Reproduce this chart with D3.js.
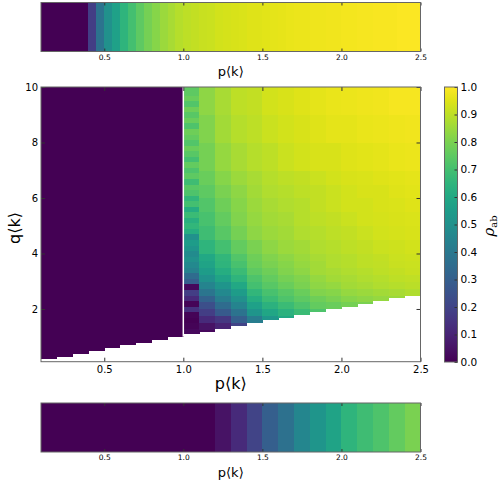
<!DOCTYPE html>
<html>
<head>
<meta charset="utf-8">
<script src="https://cdn.jsdelivr.net/npm/d3@7"></script>
<style>
body { margin: 0; background: #fff; }
text { font-family: "DejaVu Sans", sans-serif; fill: #000; }
.frame { fill: none; stroke: #666; stroke-width: 1; }
.tick line { stroke: #333; }
</style>
</head>
<body>
<svg id="chart" width="499" height="483"></svg>
<script>
// ---- data ----
// left edges of the 0.1 wide p<k> columns, last entry is the right edge
var pEdges = [0.1,0.2,0.3,0.4,0.5,0.6,0.7,0.8,0.9,1.0,1.1,1.2,1.3,1.4,1.5,1.6,1.7,1.8,1.9,2.0,2.1,2.2,2.3,2.4,2.5];
// lowest q<k> that has a value in each column (the white staircase)
var qLow = [0.2,0.3,0.4,0.5,0.6,0.7,0.8,0.9,1.0,1.1,1.2,1.3,1.4,1.5,1.6,1.7,1.8,1.9,2.0,2.1,2.2,2.3,2.4,2.5];
// p < 1 : everything is zero
var rhoLeft = [0,0,0,0,0,0,0,0,0];

// column p = 1.0 is noisy, read in 0.2 bands of q
var stripeEdges = [1.1,1.3,1.5,1.7,1.9,2.1,2.3,2.5,2.7,2.9,3.1,3.3,3.5,3.7,3.9,4.1,4.3,4.5,4.7,4.9,5.1,5.3,5.5,5.7,5.9,6.1,6.3,6.5,6.7,6.9,7.1,7.3,7.5,7.7,7.9,8.1,8.3,8.5,8.7,8.9,9.1,9.3,9.5,9.7,10.0];
var stripeRho = [0.02,0.01,0.0,0.01,0.14,0.01,0.12,0.18,0.02,0.30,0.35,0.44,0.47,0.50,0.48,0.52,0.55,0.50,0.62,0.66,0.63,0.68,0.62,0.70,0.66,0.72,0.74,0.69,0.75,0.72,0.76,0.70,0.74,0.77,0.73,0.76,0.78,0.72,0.77,0.74,0.78,0.73,0.77,0.75];

// columns p = 1.1 .. 2.4, values per q band
var qEdges = [1.0,1.25,1.5,1.75,2.0,2.25,2.5,2.75,3.0,3.25,3.5,3.75,4.0,4.5,5.0,5.5,6.0,6.5,7.0,8.0,9.0,10.0];
var rho11 = [0.02,0.05,0.12,0.18,0.24,0.31,0.39,0.45,0.51,0.55,0.58,0.60,0.65,0.69,0.71,0.73,0.75,0.77,0.79,0.81,0.83];
var rho12 = [null,0.10,0.16,0.28,0.35,0.42,0.47,0.52,0.58,0.62,0.65,0.66,0.70,0.74,0.76,0.78,0.80,0.82,0.84,0.86,0.87];
var rho13 = [null,0.20,0.30,0.38,0.45,0.50,0.55,0.60,0.65,0.68,0.71,0.73,0.76,0.79,0.81,0.82,0.83,0.85,0.87,0.89,0.90];
var rho14 = [null,null,0.42,0.52,0.57,0.62,0.66,0.70,0.72,0.75,0.77,0.78,0.80,0.83,0.84,0.85,0.86,0.87,0.89,0.90,0.91];
var rho15 = [null,null,0.53,0.59,0.64,0.68,0.71,0.74,0.76,0.78,0.80,0.81,0.83,0.85,0.86,0.87,0.88,0.89,0.90,0.92,0.93];
var rho16 = [null,null,0.60,0.64,0.68,0.72,0.74,0.77,0.79,0.81,0.82,0.83,0.85,0.86,0.87,0.88,0.89,0.90,0.92,0.93,0.94];
var rho17 = [null,null,null,0.68,0.72,0.75,0.77,0.80,0.81,0.83,0.84,0.85,0.86,0.88,0.89,0.89,0.90,0.91,0.93,0.94,0.95];
var rho18 = [null,null,null,0.72,0.76,0.78,0.81,0.83,0.84,0.86,0.86,0.87,0.88,0.89,0.90,0.91,0.91,0.92,0.94,0.95,0.96];
var rho19 = [null,null,null,null,0.77,0.80,0.82,0.84,0.86,0.87,0.88,0.88,0.89,0.90,0.91,0.92,0.92,0.93,0.94,0.96,0.965];
var rho20 = [null,null,null,null,0.79,0.82,0.84,0.86,0.87,0.88,0.89,0.89,0.90,0.91,0.92,0.93,0.93,0.94,0.95,0.96,0.97];
var rho21 = [null,null,null,null,0.80,0.83,0.85,0.87,0.88,0.89,0.90,0.90,0.91,0.92,0.93,0.93,0.94,0.945,0.955,0.965,0.975];
var rho22 = [null,null,null,null,null,0.84,0.86,0.88,0.89,0.90,0.905,0.91,0.92,0.93,0.935,0.94,0.94,0.95,0.96,0.97,0.98];
var rho23 = [null,null,null,null,null,0.85,0.87,0.89,0.90,0.91,0.915,0.92,0.925,0.935,0.94,0.945,0.95,0.955,0.965,0.975,0.985];
var rho24 = [null,null,null,null,null,null,0.88,0.895,0.905,0.915,0.92,0.925,0.93,0.94,0.945,0.95,0.955,0.96,0.97,0.98,0.985];

// top strip, 0.05 wide columns
var topEdges = [0.1,0.15,0.2,0.25,0.3,0.35,0.4,0.45,0.5,0.55,0.6,0.65,0.7,0.75,0.8,0.85,0.9,0.95,1.0,1.05,1.1,1.15,1.2,1.25,1.3,1.35,1.4,1.45,1.5,1.55,1.6,1.65,1.7,1.75,1.8,1.85,1.9,1.95,2.0,2.05,2.1,2.15,2.2,2.25,2.3,2.35,2.4,2.45,2.5];
var topRho = [0,0,0,0,0,0,0.18,0.38,0.5,0.57,0.65,0.7,0.75,0.79,0.82,0.85,0.87,0.89,0.9,0.91,0.915,0.92,0.93,0.935,0.94,0.945,0.95,0.953,0.956,0.96,0.963,0.966,0.969,0.972,0.974,0.976,0.978,0.98,0.982,0.984,0.986,0.988,0.99,0.991,0.992,0.993,0.994,0.995];

// bottom strip, 0.1 wide columns (same edges as pEdges)
var botRho = [0,0,0,0,0,0,0,0,0,0,0,0.05,0.12,0.2,0.3,0.37,0.46,0.52,0.58,0.65,0.69,0.72,0.76,0.8];

var xTicks = [0.5,1.0,1.5,2.0,2.5];
var yTicks = [2,4,6,8,10];
var cbTicks = [0,0.1,0.2,0.3,0.4,0.5,0.6,0.7,0.8,0.9,1.0];

// ---- drawing ----
var svg = d3.select("#chart");
var color = d3.interpolateViridis;

var x = d3.scaleLinear().domain([0.1, 2.5]).range([41, 420.5]);
var y = d3.scaleLinear().domain([0.1, 10]).range([361.7, 87]);

// build the cells
var cells = [];
rhoLeft.forEach(function(v, i) {
  cells.push({p0: pEdges[i], p1: pEdges[i+1], q0: qLow[i], q1: 10, v: v});
});
stripeRho.forEach(function(v, i) {
  cells.push({p0: 1.0, p1: 1.1, q0: stripeEdges[i], q1: stripeEdges[i+1], v: v});
});
var rightCols = [rho11,rho12,rho13,rho14,rho15,rho16,rho17,rho18,rho19,rho20,rho21,rho22,rho23,rho24];
rightCols.forEach(function(col, j) {
  var c = j + 10; // index into pEdges / qLow (p = 1.1 is index 10)
  col.forEach(function(v, i) {
    if (v == null) return;
    var lo = Math.max(qEdges[i], qLow[c]);
    var hi = qEdges[i+1];
    if (hi <= lo) return;
    cells.push({p0: pEdges[c], p1: pEdges[c+1], q0: lo, q1: hi, v: v});
  });
});

var main = svg.append("g");
main.selectAll("rect.cell")
  .data(cells)
  .enter()
  .append("rect")
  .attr("class", "cell")
  .attr("x", d => x(d.p0))
  .attr("width", d => x(d.p1) - x(d.p0) + 0.4)
  .attr("y", d => y(d.q1))
  .attr("height", d => y(d.q0) - y(d.q1) + 0.4)
  .attr("fill", d => color(d.v))
  .attr("shape-rendering", "crispEdges");

// thin white gap at p = 1
main.append("line")
  .attr("x1", x(1.0)).attr("x2", x(1.0))
  .attr("y1", y(10)).attr("y2", y(qLow[8]))
  .attr("stroke", "#fff")
  .attr("stroke-width", 1.5);

// axes with ticks pointing in
main.append("g")
  .attr("transform", "translate(0," + y(0.1) + ")")
  .call(d3.axisBottom(x).tickValues(xTicks).tickFormat(d3.format(".1f")).tickSizeInner(-4).tickSizeOuter(0).tickPadding(4))
  .call(g => g.select(".domain").remove())
  .selectAll("text").attr("font-size", 10);
main.append("g")
  .attr("transform", "translate(0," + y(10) + ")")
  .call(d3.axisTop(x).tickValues(xTicks).tickFormat("").tickSizeInner(-4).tickSizeOuter(0))
  .call(g => g.select(".domain").remove());
main.append("g")
  .attr("transform", "translate(" + x(0.1) + ",0)")
  .call(d3.axisLeft(y).tickValues(yTicks).tickFormat(d3.format("d")).tickSizeInner(-4).tickSizeOuter(0).tickPadding(3))
  .call(g => g.select(".domain").remove())
  .selectAll("text").attr("font-size", 10);
main.append("g")
  .attr("transform", "translate(" + x(2.5) + ",0)")
  .call(d3.axisRight(y).tickValues(yTicks).tickFormat("").tickSizeInner(-4).tickSizeOuter(0))
  .call(g => g.select(".domain").remove());

main.append("rect").attr("class", "frame")
  .attr("x", x(0.1)).attr("y", y(10))
  .attr("width", x(2.5) - x(0.1)).attr("height", y(0.1) - y(10));

main.append("text")
  .attr("x", (x(0.1) + x(2.5)) / 2).attr("y", 389)
  .attr("text-anchor", "middle").attr("font-size", 16)
  .text("p\u27E8k\u27E9");
main.append("text")
  .attr("transform", "translate(20,228) rotate(-90)")
  .attr("text-anchor", "middle").attr("font-size", 16)
  .text("q\u27E8k\u27E9");

// the two strips
function strip(top, bottom, edges, vals, labelY) {
  var g = svg.append("g");
  var sy0 = top, sy1 = bottom;
  g.selectAll("rect.s")
    .data(vals)
    .enter()
    .append("rect")
    .attr("x", (d, i) => x(edges[i]))
    .attr("width", (d, i) => x(edges[i+1]) - x(edges[i]) + 0.4)
    .attr("y", sy0)
    .attr("height", sy1 - sy0)
    .attr("fill", d => color(d))
    .attr("shape-rendering", "crispEdges");
  g.append("g")
    .attr("transform", "translate(0," + sy1 + ")")
    .call(d3.axisBottom(x).tickValues(xTicks).tickFormat(d3.format(".1f")).tickSizeInner(-3).tickSizeOuter(0).tickPadding(3))
    .call(s => s.select(".domain").remove())
    .selectAll("text").attr("font-size", 7.5);
  g.append("g")
    .attr("transform", "translate(0," + sy0 + ")")
    .call(d3.axisTop(x).tickValues(xTicks).tickFormat("").tickSizeInner(-3).tickSizeOuter(0))
    .call(s => s.select(".domain").remove());
  g.append("rect").attr("class", "frame")
    .attr("x", x(0.1)).attr("y", sy0)
    .attr("width", x(2.5) - x(0.1)).attr("height", sy1 - sy0);
  g.append("text")
    .attr("x", (x(0.1) + x(2.5)) / 2).attr("y", labelY)
    .attr("text-anchor", "middle").attr("font-size", 13)
    .text("p\u27E8k\u27E9");
}
strip(2.5, 51.5, topEdges, topRho, 76);
strip(403, 452, pEdges, botRho, 477);

// colorbar
var cb = svg.append("g");
var cy = d3.scaleLinear().domain([0, 1]).range([362, 87]);
var grad = svg.append("defs").append("linearGradient")
  .attr("id", "vir").attr("x1", 0).attr("y1", 1).attr("x2", 0).attr("y2", 0);
grad.selectAll("stop")
  .data(d3.range(0, 1.001, 0.05))
  .enter()
  .append("stop")
  .attr("offset", d => d)
  .attr("stop-color", d => color(d));
cb.append("rect")
  .attr("x", 444.5).attr("y", cy(1))
  .attr("width", 13).attr("height", cy(0) - cy(1))
  .attr("fill", "url(#vir)");
cb.append("g")
  .attr("transform", "translate(457.5,0)")
  .call(d3.axisRight(cy).tickValues(cbTicks).tickFormat(d3.format(".1f")).tickSizeInner(-3).tickSizeOuter(0).tickPadding(3))
  .call(g => g.select(".domain").remove())
  .selectAll("text").attr("font-size", 10.5);
cb.append("rect").attr("class", "frame")
  .attr("x", 444.5).attr("y", cy(1))
  .attr("width", 13).attr("height", cy(0) - cy(1));

var lab = cb.append("text")
  .attr("transform", "translate(494,226) rotate(-90)")
  .attr("text-anchor", "middle")
  .attr("font-size", 15)
  .style("font-family", "'DejaVu Serif', serif");
lab.append("tspan").attr("font-style", "italic").text("\u03C1");
lab.append("tspan").attr("font-size", 10).attr("dy", 3).text("ab");
</script>
</body>
</html>
